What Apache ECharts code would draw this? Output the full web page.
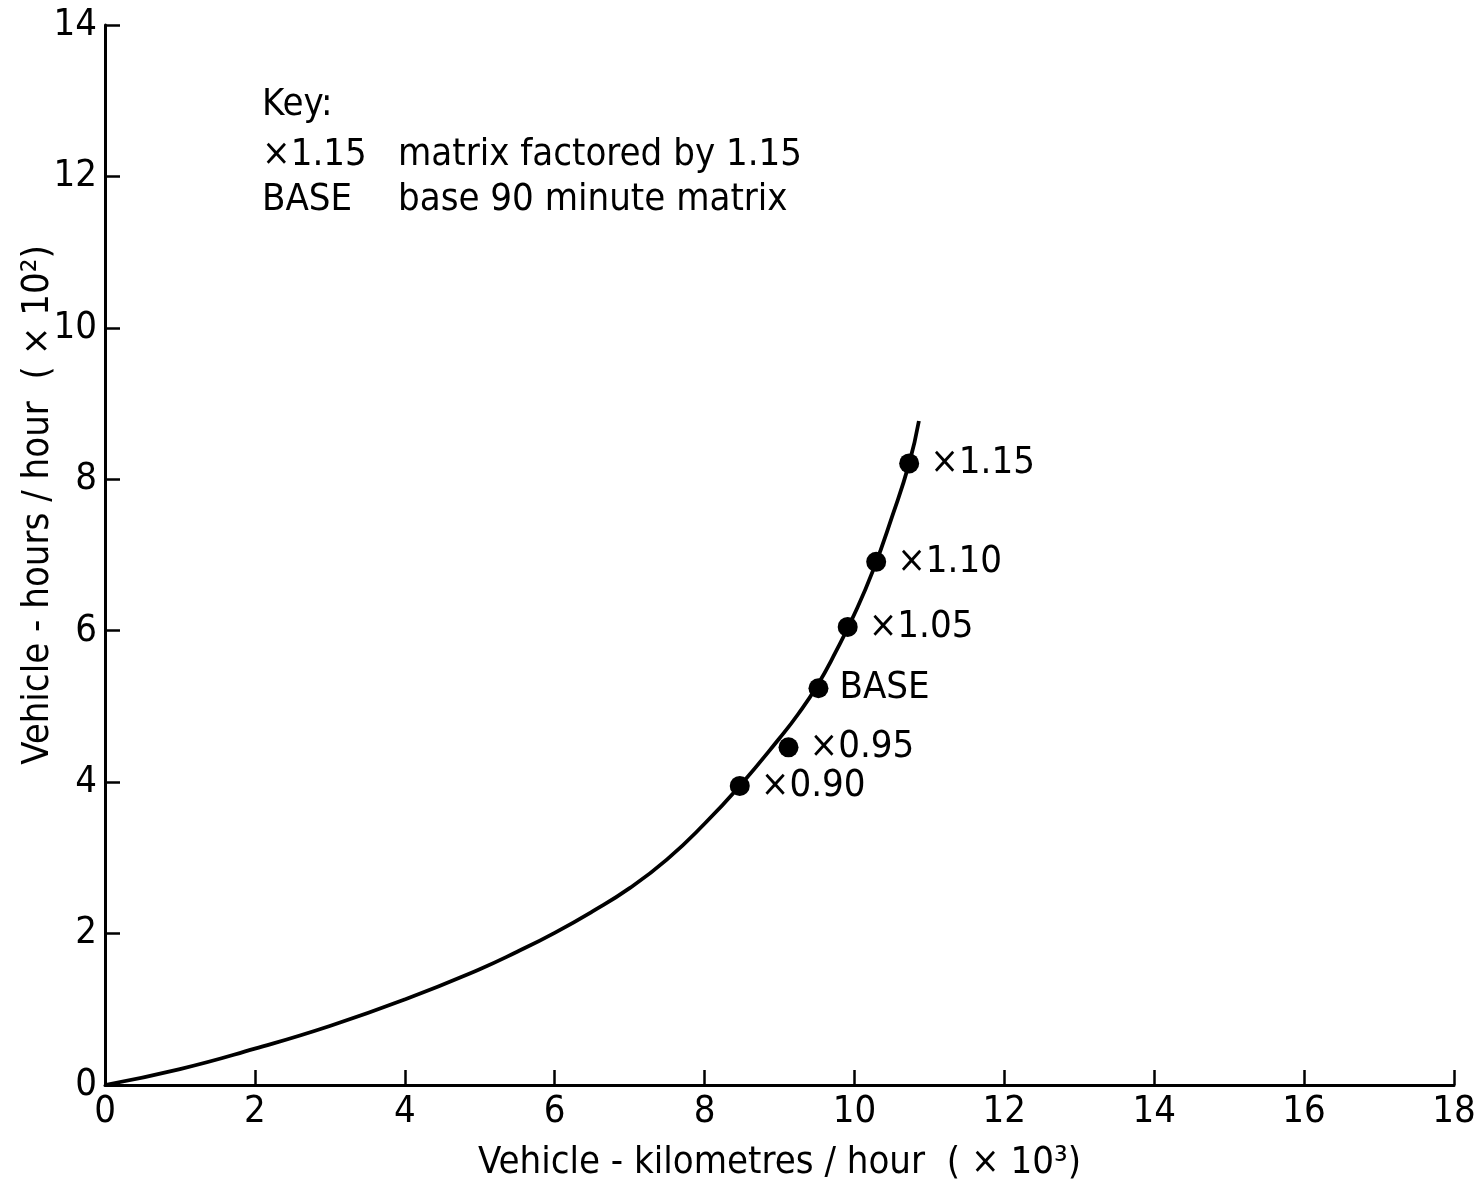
<!DOCTYPE html>
<html>
<head>
<meta charset="utf-8">
<script src="https://cdn.jsdelivr.net/npm/echarts@6/dist/echarts.min.js"></script>
<style>html,body{margin:0;padding:0;background:#fff}#c{width:1479px;height:1181px}</style>
</head>
<body>
<div id="c"></div>
<script>
// Curve (x: vehicle-km/hour ×10^3, y: vehicle-hours/hour ×10^2)
var curveX = [0, 1, 2, 3, 4, 5, 5.5, 6, 6.5, 7, 7.5, 8, 8.47, 9.0, 9.25, 9.5, 9.75, 10.0, 10.25, 10.5, 10.73, 10.86];
var curveY = [0, 0.21, 0.48, 0.78, 1.13, 1.53, 1.76, 2.01, 2.29, 2.60, 2.98, 3.45, 3.95, 4.58, 4.90, 5.27, 5.72, 6.22, 6.80, 7.50, 8.21, 8.77];
// Marked scenarios
var pointNames = ['×0.90', '×0.95', 'BASE', '×1.05', '×1.10', '×1.15'];
var pointX = [8.47, 9.12, 9.52, 9.91, 10.29, 10.73];
var pointY = [3.95, 4.46, 5.24, 6.05, 6.91, 8.21];
var xTicks = [0, 2, 4, 6, 8, 10, 12, 14, 16, 18];
var yTicks = [0, 2, 4, 6, 8, 10, 12, 14];

var FONT = '"DejaVu Sans Condensed", "Liberation Sans Narrow", "DejaVu Sans", sans-serif';
var chart = echarts.init(document.getElementById('c'));
var curveData = curveX.map(function (x, i) { return [x, curveY[i]]; });
var pointData = pointX.map(function (x, i) { return { value: [x, pointY[i]], name: pointNames[i] }; });

chart.setOption({
  animation: false,
  backgroundColor: '#fff',
  grid: { left: 105, right: 25, top: 25, bottom: 96, containLabel: false, outerBoundsMode: 'none' },
  xAxis: {
    type: 'value', min: 0, max: 18, interval: 2,
    name: 'Vehicle - kilometres / hour  ( × 10³)',
    nameLocation: 'middle', nameGap: 59, nameMoveOverlap: false,
    nameTextStyle: { fontFamily: FONT, fontSize: 38, color: '#000' },
    axisLine: { show: true, lineStyle: { color: '#000', width: 3 } },
    axisTick: { show: true, inside: true, length: 15, lineStyle: { color: '#000', width: 2.5 } },
    axisLabel: { fontFamily: FONT, fontSize: 38, color: '#000', margin: 8,
      formatter: function (v) { return xTicks.indexOf(v) >= 0 ? String(v) : ''; } },
    splitLine: { show: false }
  },
  yAxis: {
    type: 'value', min: 0, max: 14, interval: 2,
    name: 'Vehicle - hours / hour  ( × 10²)',
    nameLocation: 'middle', nameGap: 48, nameRotate: 90, nameMoveOverlap: false,
    nameTextStyle: { fontFamily: FONT, fontSize: 38, color: '#000', padding: [0, 0, 0, 100] },
    axisLine: { show: true, lineStyle: { color: '#000', width: 3 } },
    axisTick: { show: true, inside: true, length: 15, lineStyle: { color: '#000', width: 2.5 } },
    axisLabel: { fontFamily: FONT, fontSize: 38, color: '#000', margin: 8,
      formatter: function (v) { return yTicks.indexOf(v) >= 0 ? String(v) : ''; } },
    splitLine: { show: false }
  },
  series: [
    {
      type: 'line', data: curveData, smooth: 0.5, showSymbol: false,
      lineStyle: { color: '#000', width: 3.8 }, z: 2
    },
    {
      type: 'scatter', data: pointData, symbol: 'circle', symbolSize: 20,
      itemStyle: { color: '#000', opacity: 1 }, z: 3,
      label: { show: true, position: 'right', distance: 11, formatter: '{b}',
        fontFamily: FONT, fontSize: 38, color: '#000' }
    }
  ],
  graphic: [
    { type: 'text', left: 262, top: 86, style: { text: 'Key:', font: '38px ' + FONT, fill: '#000' } },
    { type: 'text', left: 262, top: 136, style: { text: '×1.15', font: '38px ' + FONT, fill: '#000' } },
    { type: 'text', left: 398, top: 136, style: { text: 'matrix factored by 1.15', font: '38px ' + FONT, fill: '#000' } },
    { type: 'text', left: 262, top: 181, style: { text: 'BASE', font: '38px ' + FONT, fill: '#000' } },
    { type: 'text', left: 398, top: 181, style: { text: 'base 90 minute matrix', font: '38px ' + FONT, fill: '#000' } }
  ]
});
</script>
</body>
</html>
